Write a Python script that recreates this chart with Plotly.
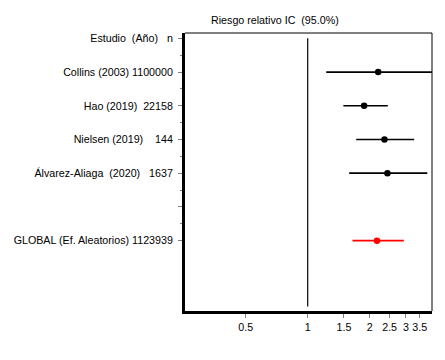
import plotly.graph_objects as go

# ---- data ----
row_labels = [
    "Estudio\u00a0\u00a0(Año)\u00a0\u00a0\u00a0n",
    "Collins (2003) 1100000",
    "Hao (2019)\u00a0\u00a022158",
    "Nielsen (2019)\u00a0\u00a0\u00a0\u00a0144",
    "Álvarez-Aliaga\u00a0\u00a0(2020)\u00a0\u00a0\u00a01637",
    "",
    "GLOBAL (Ef. Aleatorios) 1123939",
]
study_rows = [1, 2, 3, 4]
study_rr = [2.20, 1.88, 2.36, 2.44]
study_low = [1.23, 1.49, 1.72, 1.59]
study_high = [4.6, 2.45, 3.29, 3.81]

global_row = [6]
global_rr = [2.17]
global_low = [1.65]
global_high = [2.93]

x_tickvals = [0.5, 1, 1.5, 2, 2.5, 3, 3.5]
x_ticktext = ["0.5", "1", "1.5", "2", "2.5", "3", "3.5"]
NULL_EFFECT = 1
title_text = "Riesgo relativo IC\u00a0\u00a0(95.0%)"

FONT = "Liberation Sans, Arial, sans-serif"
FS = 10.7

fig = go.Figure()


def add_ci(rows, rr, lo, hi, color):
    xs, ys = [], []
    for r, a, b in zip(rows, lo, hi):
        xs += [a, b, None]
        ys += [r, r, None]
    fig.add_trace(go.Scatter(x=xs, y=ys, mode="lines",
                             line=dict(color=color, width=1.7),
                             hoverinfo="skip", showlegend=False))
    fig.add_trace(go.Scatter(x=rr, y=rows, mode="markers",
                             marker=dict(color=color, size=6.5, symbol="circle"),
                             showlegend=False, cliponaxis=True))


add_ci(study_rows, study_rr, study_low, study_high, "black")
add_ci(global_row, global_rr, global_low, global_high, "red")

# null-effect reference line
fig.add_shape(type="line", xref="x", yref="y", x0=NULL_EFFECT, x1=NULL_EFFECT,
              y0=0, y1=7.95, line=dict(color="black", width=1.2))
# thin top/right frame
fig.add_shape(type="line", xref="paper", yref="paper", x0=0, x1=1, y0=1, y1=1,
              line=dict(color="black", width=1))
fig.add_shape(type="line", xref="paper", yref="paper", x0=1, x1=1, y0=0, y1=1,
              line=dict(color="black", width=1))

half_rows = [i + 0.5 for i in range(len(row_labels) - 1)]

# page body has an 8px margin; margins below compensate for it
fig.update_layout(
    width=445, height=360,
    margin=dict(l=177, r=21, t=25, b=57, autoexpand=False),
    paper_bgcolor="white", plot_bgcolor="white",
    font=dict(family=FONT, size=FS, color="black"),
    showlegend=False,
    annotations=[dict(text=title_text, xref="paper", yref="paper",
                      x=0.364, y=1.045, xanchor="center", yanchor="middle",
                      showarrow=False, font=dict(family=FONT, size=FS, color="black"))],
)

fig.update_xaxes(
    type="log",
    range=[-0.596, 0.6038],
    tickvals=x_tickvals, ticktext=x_ticktext,
    ticks="outside", ticklen=4, tickcolor="#808080", tickwidth=1,
    showline=True, linecolor="black", linewidth=3,
    showgrid=False, zeroline=False, automargin=False,
    tickfont=dict(family=FONT, size=FS, color="black"),
)
fig.update_yaxes(
    range=[8.085, -0.157],
    tickvals=list(range(len(row_labels))), ticktext=row_labels,
    ticks="outside", ticklen=4, tickcolor="#808080", tickwidth=1,
    ticklabelstandoff=3,
    minor=dict(tickvals=half_rows, ticks="outside", ticklen=2,
               tickcolor="#808080", tickwidth=1, showgrid=False),
    showline=True, linecolor="black", linewidth=3,
    showgrid=False, zeroline=False, automargin=False,
    tickfont=dict(family=FONT, size=FS, color="black"),
)

fig.write_html("out.html")
